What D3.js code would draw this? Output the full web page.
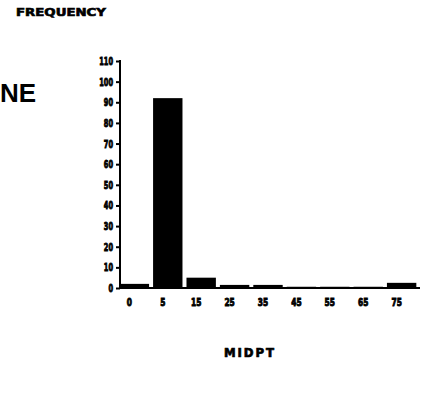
<!DOCTYPE html>
<html><head><meta charset="utf-8">
<script src="https://cdn.jsdelivr.net/npm/d3@7"></script>
<style>body{margin:0;background:#fff}svg{display:block}</style>
</head><body>
<script>
const categories = ["0","5","15","25","35","45","55","65","75"];
const frequency = [2, 92, 5, 1.5, 1.5, 0.6, 0.6, 0.6, 2.5];
const yTicks = [0,10,20,30,40,50,60,70,80,90,100,110];
const yTitle = "FREQUENCY";
const xTitle = "MIDPT";
const sideText = "NE";

const W = 423, H = 408;
const svg = d3.select("body").append("svg").attr("width", W).attr("height", H);
const x = d3.scaleBand().domain(categories).range([118, 418]).paddingInner(0.12).paddingOuter(0.05);
const y = d3.scaleLinear().domain([0,110]).range([288, 61]);
const font = "'DejaVu Sans Condensed','DejaVu Sans',sans-serif";

svg.append("text").attr("x", 16).attr("y", 16).text(yTitle)
  .attr("font-family", font).attr("font-weight", "bold").attr("font-size", 11)
  .attr("stroke", "#000").attr("stroke-width", 0.6)
  .attr("textLength", 90).attr("lengthAdjust", "spacingAndGlyphs");
svg.append("text").attr("x", 0).attr("y", 102).text(sideText)
  .attr("font-family", "'Liberation Sans',Arial,sans-serif").attr("font-weight", "bold").attr("font-size", 26);

svg.selectAll("rect.bar").data(categories).join("rect").attr("class","bar")
  .attr("x", d => x(d)).attr("width", x.bandwidth())
  .attr("y", (d,i) => y(frequency[i])).attr("height", (d,i) => y(0) - y(frequency[i]))
  .attr("fill", "#000");

const ya = d3.axisLeft(y).tickValues(yTicks).tickSize(4).tickPadding(3);
const gy = svg.append("g").attr("transform", "translate(120,0)").call(ya);
gy.select(".domain").attr("stroke-width", 2).attr("d", "M0,60V289");
gy.selectAll(".tick line").attr("stroke-width", 2);
gy.selectAll("text").attr("font-family", font).attr("font-weight", "bold").attr("font-size", 11)
  .attr("stroke", "#000").attr("stroke-width", 0.9)
  .attr("textLength", function(){ return this.textContent.length * 4.6; })
  .attr("lengthAdjust", "spacingAndGlyphs");

const xa = d3.axisBottom(x).tickSize(0).tickPadding(10);
const gx = svg.append("g").attr("transform", "translate(-5,288)").call(xa);
gx.select(".domain").remove();
gx.selectAll("text").attr("font-family", font).attr("font-weight", "bold").attr("font-size", 11)
  .attr("stroke", "#000").attr("stroke-width", 0.9)
  .attr("textLength", function(){ return this.textContent.length * 5.2; })
  .attr("lengthAdjust", "spacingAndGlyphs");
svg.append("line").attr("x1", 120).attr("x2", 420).attr("y1", 288).attr("y2", 288).attr("stroke", "#000").attr("stroke-width", 2);

svg.append("text").attr("x", 249).attr("y", 357).attr("text-anchor", "middle").text(xTitle)
  .attr("font-family", font).attr("font-weight", "bold").attr("font-size", 13)
  .attr("stroke", "#000").attr("stroke-width", 0.7)
  .attr("textLength", 50).attr("lengthAdjust", "spacing");
</script>
</body></html>
